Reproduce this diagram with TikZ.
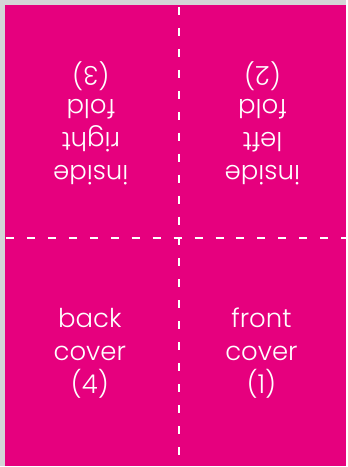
\documentclass[tikz,border=0pt]{standalone}
\usepackage{fontspec}
\setmainfont{Poppins Light}
\usepackage{tikz}
\definecolor{leafpink}{RGB}{230,0,126}
\definecolor{edgegrey}{RGB}{212,213,214}
\tikzset{panel/.style={text=white, align=center, font=\fontsize{26}{33}\selectfont}}

\begin{document}
\begin{tikzpicture}[x=1pt, y=-1pt]
		%%%%% START %%%%%
		
		\fill[edgegrey] (0, 0) rectangle (347, 467);
		\fill[leafpink] (5, 5) rectangle (347, 467);
		
		\draw[white, line width=2pt, dash pattern=on 8pt off 13pt] (179, 7) -- (179, 467);
		\draw[white, line width=2pt, dash pattern=on 8pt off 13pt] (6, 239) -- (347, 239);
		
		\node[panel, rotate=180] (rightfold) at (91, 124) {inside\\right\\fold\\(3)};
		\node[panel, rotate=180] (leftfold) at (263, 124) {inside\\left\\fold\\(2)};
		
		\node[panel] (back) at (90, 354) {back\\cover\\(4)};
		\node[panel] (front) at (262, 354) {front\\cover\\(1)};
		
		%%%%% END %%%%%
	\end{tikzpicture}
\end{document}
